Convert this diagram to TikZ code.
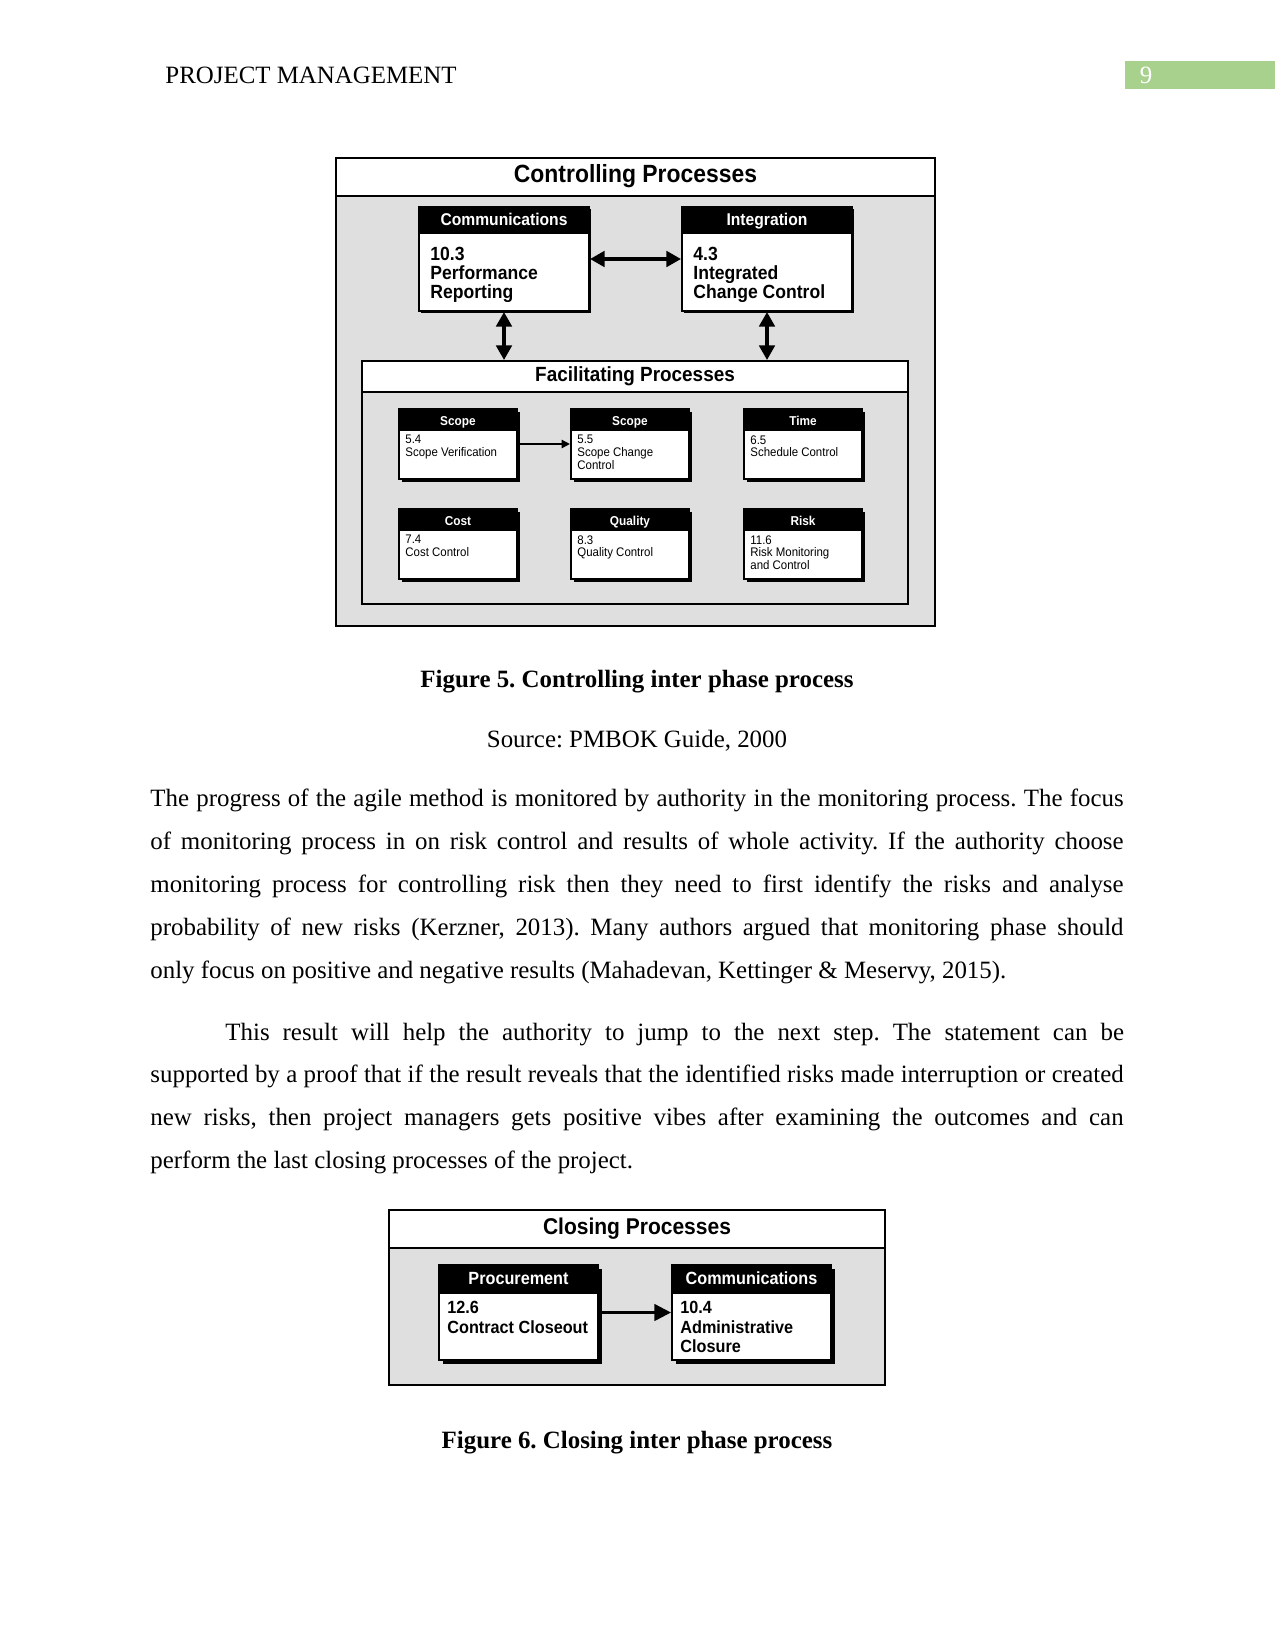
\documentclass[tikz,border=0pt]{standalone}
\usepackage{fontspec}
\setmainfont{Liberation Serif}
\newfontfamily\diagfont[FakeStretch=0.92]{Liberation Sans}
\usetikzlibrary{arrows.meta,shadows,fit,positioning}
\definecolor{pagegreen}{HTML}{A9D18E}
\newlength\bodywidth
\setlength\bodywidth{469pt}
\newcommand\bigboxfont{\diagfont\bfseries\fontsize{9.2}{9.2}\selectfont}
\newcommand\closeboxfont{\diagfont\bfseries\fontsize{8.5}{9.3}\selectfont}
\newcommand\smallboxfont{\diagfont\fontsize{6}{6.1}\selectfont}
\frenchspacing

\begin{document}
\begin{tikzpicture}[x=0.016933cm,y=-0.016933cm,font=\fontsize{12}{14.4}\selectfont,
 panel/.style={draw,line width=1pt,fill=gray!25,inner sep=0pt},
 band/.style={draw,line width=1pt,fill=white,inner sep=0pt},
 bandtext/.style={inner sep=0pt,text height=0.72em,text depth=0.2em,font=\diagfont\bfseries\fontsize{#1}{#1}\selectfont},
 procbox/.style={draw,line width=1pt,fill=white,inner sep=0pt,general shadow={fill=black,shadow xshift=#1,shadow yshift=-#1}},
 headbar/.style={fill=black,inner sep=0pt},
 headtext/.style={text=white,inner sep=0pt,text height=0.72em,text depth=0.2em,font=\diagfont\bfseries\fontsize{#1}{#1}\selectfont},
 boxtext/.style={anchor=north west,align=left,inner sep=0pt},
 jline/.style={anchor=base west,inner sep=0pt},
 dbl/.style={line width=1.5pt,{Triangle[length=7pt,width=7.5pt]}-{Triangle[length=7pt,width=7.5pt]}},
 link/.style={line width=1.3pt,-{Triangle[length=8pt,width=8pt]}},
 thinlink/.style={line width=0.7pt,-{Triangle[length=4pt,width=4pt]}}]
\path[use as bounding box,fill=white] (0,0) rectangle (1275,1650);

\node[jline] (head) at (165,83) {PROJECT MANAGEMENT};
\node[fill=pagegreen,inner sep=0pt,fit={(1125,61) (1275,89)}] (pagebox) {};
\node[anchor=base,text=white] (pagenum) at (1146,83) {9};

\node[panel,fit={(336,158) (935,626)}] (ctrl) {};
\node[band,fit={(336,158) (935,196)}] (ctrl-t) {};
\node[bandtext=12] (ctrl-l) at (ctrl-t.center) {Controlling Processes};

\node[procbox=1pt,fit={(419,207) (589,311)}] (pr) {};
\node[headbar,fit={(419,207) (589,234)}] (pr-h) {};
\node[headtext=8.2] (pr-l) at (pr-h.center) {Communications};
\node[boxtext,font=\bigboxfont] (pr-t) at (430,247) {10.3\\Performance\\Reporting};
\node[procbox=1pt,fit={(682,207) (852,311)}] (ic) {};
\node[headbar,fit={(682,207) (852,234)}] (ic-h) {};
\node[headtext=8.2] (ic-l) at (ic-h.center) {Integration};
\node[boxtext,font=\bigboxfont] (ic-t) at (693,247) {4.3\\Integrated\\Change Control};

\node[panel,fit={(362,361) (908,604)}] (fac) {};
\node[band,fit={(362,361) (908,392)}] (fac-t) {};
\node[bandtext=9.9] (fac-l) at (fac-t.center) {Facilitating Processes};

\foreach \nm/\x/\y/\hd/\txt in {
 sv/399/409/Scope/{5.4\\Scope Verification},
 sc/571/409/Scope/{5.5\\Scope Change\\Control},
 sch/744/409/Time/{6.5\\Schedule Control},
 cst/399/509/Cost/{7.4\\Cost Control},
 qc/571/509/Quality/{8.3\\Quality Control},
 rm/744/509/Risk/{11.6\\Risk Monitoring\\and Control}} {
 \node[procbox=1.3pt,fit={(\x,\y) (\x+118,\y+70)}] (\nm) {};
 \node[headbar,fit={(\x,\y) (\x+118,\y+22)}] (\nm-h) {};
 \node[headtext=6.2] (\nm-l) at (\nm-h.center) {\hd};
 \node[boxtext,font=\smallboxfont] (\nm-t) at (\x+6,\y+26) {\txt};
}

\draw[dbl] (pr.east) -- (ic.west);
\draw[dbl] (pr.south) -- (pr.south |- fac.north);
\draw[dbl] (ic.south) -- (ic.south |- fac.north);
\draw[thinlink] (sv.east) -- (sc.west);

\node[anchor=base,font=\bfseries\fontsize{12}{14.4}\selectfont] (cap5) at (637,687) {Figure 5. Controlling inter phase process};
\node[anchor=base] (src5) at (637,747) {Source: PMBOK Guide, 2000};

\foreach \k/\al/\ln in {
 0/s/{The progress of the agile method is monitored by authority in the monitoring process. The focus},
 1/s/{of monitoring process in on risk control and results of whole activity. If the authority choose},
 2/s/{monitoring process for controlling risk then they need to first identify the risks and analyse},
 3/s/{probability of new risks (Kerzner, 2013). Many authors argued that monitoring phase should},
 4/l/{only focus on positive and negative results (Mahadevan, Kettinger \& Meservy, 2015).}}
 \node[jline] (pa-\k) at (150,806+43*\k) {\makebox[\bodywidth][\al]{\ln}};

\node[jline] (pb-0) at (225,1040) {\makebox[433pt][s]{This result will help the authority to jump to the next step. The statement can be}};
\foreach \k/\al/\ln in {
 1/s/{supported by a proof that if the result reveals that the identified risks made interruption or created},
 2/s/{new risks, then project managers gets positive vibes after examining the outcomes and can},
 3/l/{perform the last closing processes of the project.}}
 \node[jline] (pb-\k) at (150,1040+42.8*\k) {\makebox[\bodywidth][\al]{\ln}};

\node[panel,fit={(389,1210) (885,1385)}] (clos) {};
\node[band,fit={(389,1210) (885,1248)}] (clos-t) {};
\node[bandtext=11] (clos-l) at (clos-t.center) {Closing Processes};

\node[procbox=2pt,fit={(439,1265) (598,1360)}] (cco) {};
\node[headbar,fit={(439,1265) (598,1294)}] (cco-h) {};
\node[headtext=8.5] (cco-l) at (cco-h.center) {Procurement};
\node[boxtext,font=\closeboxfont] (cco-t) at (447,1301) {12.6\\Contract Closeout};
\node[procbox=2pt,fit={(672,1265) (831,1360)}] (adc) {};
\node[headbar,fit={(672,1265) (831,1294)}] (adc-h) {};
\node[headtext=8.5] (adc-l) at (adc-h.center) {Communications};
\node[boxtext,font=\closeboxfont] (adc-t) at (680,1301) {10.4\\Administrative\\Closure};

\draw[link] (cco.east) -- (adc.west);

\node[anchor=base,font=\bfseries\fontsize{12}{14.4}\selectfont] (cap6) at (637,1448) {Figure 6. Closing inter phase process};
\end{tikzpicture}
\end{document}
